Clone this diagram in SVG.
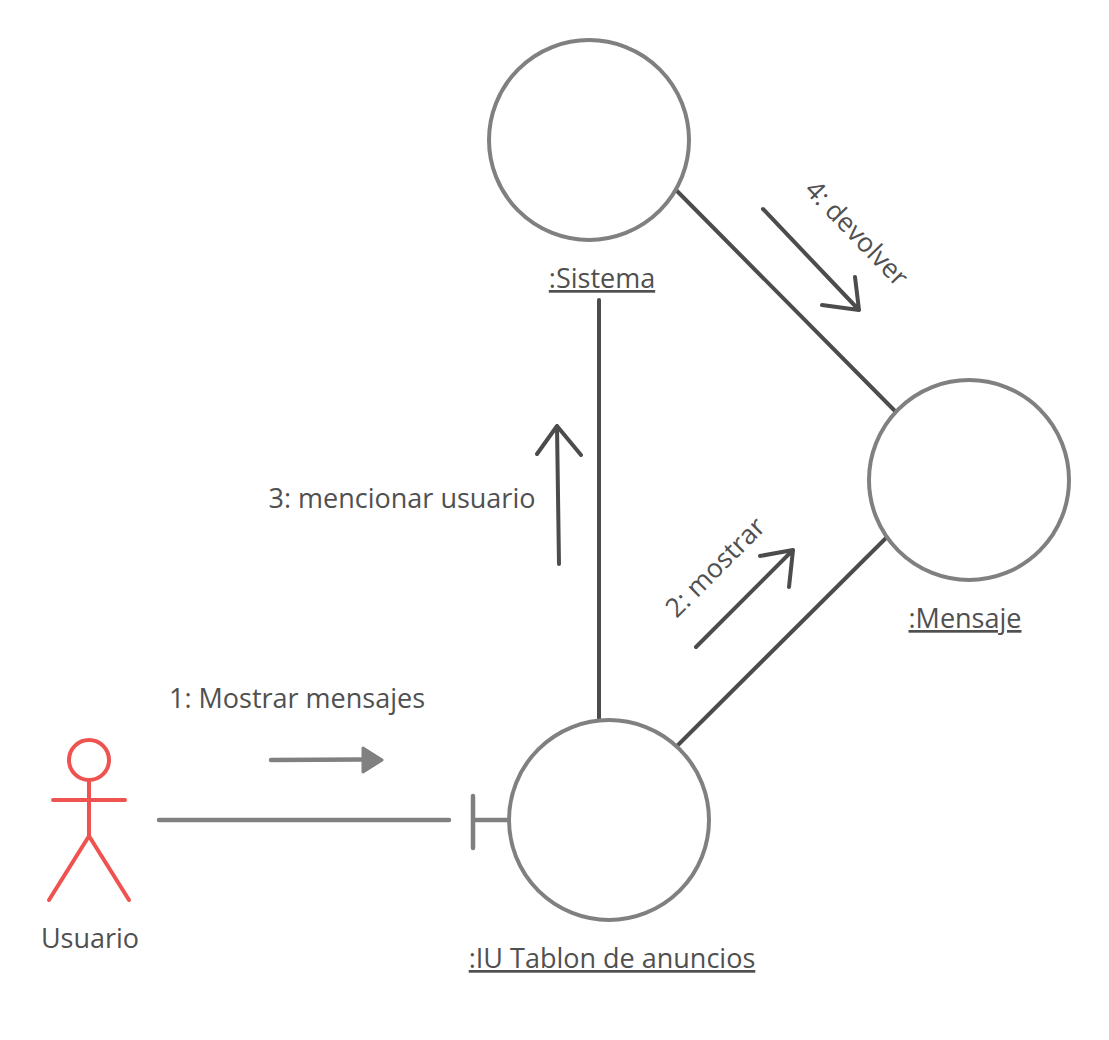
<svg xmlns="http://www.w3.org/2000/svg" width="1109" height="1040" viewBox="0 0 1109 1040">
<style>
text{font-family:"Open Sans","Noto Sans",sans-serif;font-size:27px;fill:#505050;text-anchor:middle}
.r{font-size:26.500px}
.u{text-decoration:underline}
.c{fill:#fff;stroke:#808080;stroke-width:4}
.g{fill:none;stroke:#808080;stroke-width:4.500;stroke-linecap:round;stroke-linejoin:round}
.d{fill:none;stroke:#4c4c4c;stroke-width:4;stroke-linecap:round;stroke-linejoin:round}
.a{fill:none;stroke:#ef5350;stroke-width:4;stroke-linecap:round;stroke-linejoin:round}
</style>
<rect width="1109" height="1040" fill="#fff"/>
<g id="connectors">
<path class="d" d="M599 300V719"/>
<path class="d" d="M677 191L894 410"/>
<path class="d" d="M678 745L886 538"/>
<path class="g" d="M159 820H449"/>
<path class="g" d="M473 796V848M473 820H508"/>
</g>
<g id="sistema"><circle class="c" cx="589" cy="140" r="100"/><text class="u" x="602" y="288">:Sistema</text></g>
<g id="mensaje"><circle class="c" cx="969" cy="480" r="100"/><text class="u" x="965" y="628">:Mensaje</text></g>
<g id="tablon"><circle class="c" cx="609" cy="820" r="100"/><text class="u" x="612" y="968">:IU Tablon de anuncios</text></g>
<g id="usuario">
<circle class="a" cx="89" cy="760" r="20"/>
<path class="a" d="M89 780V836M53 800H125M49 900L89 836L129 900"/>
<text x="90" y="948">Usuario</text>
</g>
<g id="msg1"><text x="297" y="708">1: Mostrar mensajes</text>
<path class="g" d="M271 760L363 759.500"/><path d="M363 748L382 760L363 772Z" fill="#808080" stroke="#808080" stroke-width="3" stroke-linejoin="round"/></g>
<g id="msg2"><text class="r" transform="translate(716 568) rotate(-45)" x="0" y="8">2: mostrar</text>
<path class="d" d="M696 647L793 550M760 556L793 550L789 587"/></g>
<g id="msg3"><text x="402" y="508">3: mencionar usuario</text>
<path class="d" d="M559 564L557 426M537 454L557 426L581 455"/></g>
<g id="msg4"><text class="r" transform="translate(856 234) rotate(46)" x="0" y="8">4: devolver</text>
<path class="d" d="M763 209L859 310M822 305L859 310L855 277"/></g>
</svg>
